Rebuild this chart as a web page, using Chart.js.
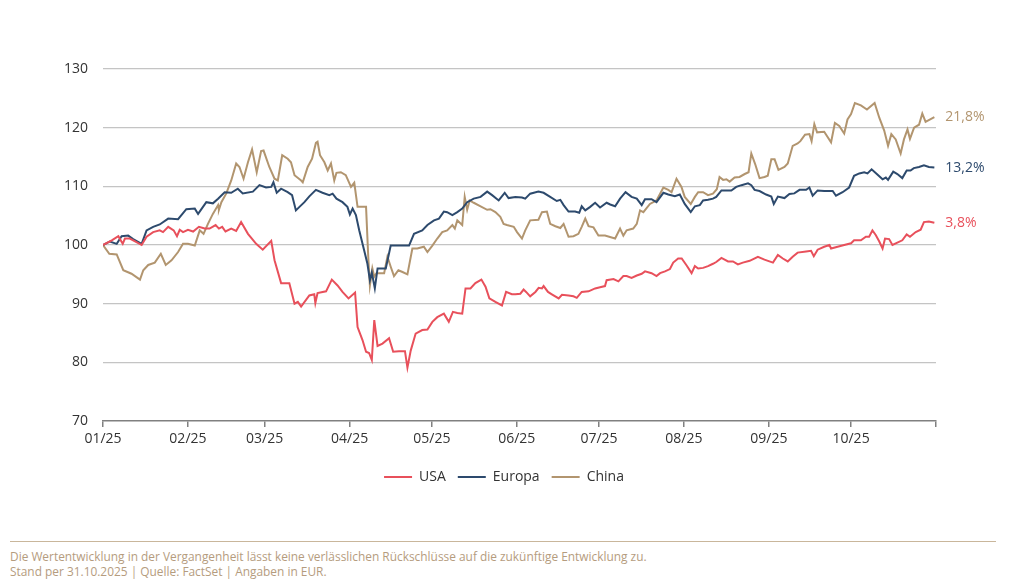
<!DOCTYPE html>
<html lang="de">
<head>
<meta charset="utf-8">
<script src="https://cdn.jsdelivr.net/npm/chart.js@4.4.1/dist/chart.umd.min.js"></script>
<style>
  html, body { margin: 0; padding: 0; background: #ffffff; }
  body { width: 1024px; height: 586px; position: relative; overflow: hidden; font-family: "Open Sans", sans-serif; }
  #wrap { position: absolute; left: 0; top: 0; width: 1024px; height: 505px; }
  #sep { position: absolute; left: 10px; top: 541px; width: 986px; height: 0; border-top: 1.5px solid #c9b69b; }
  #foot { position: absolute; left: 10px; top: 549px; font-size: 11.9px; line-height: 15px; color: #b59c7e; }
</style>
</head>
<body>
<div id="wrap"><canvas id="c"></canvas></div>
<div id="sep"></div>
<div id="foot">Die Wertentwicklung in der Vergangenheit lässt keine verlässlichen Rückschlüsse auf die zukünftige Entwicklung zu.<br>Stand per 31.10.2025 | Quelle: FactSet | Angaben in EUR.</div>
<script>
// x values: days since 1 Jan 2025
const seriesNames = ['USA', 'Europa', 'China'];
const endLabels = ['3,8%', '13,2%', '21,8%'];
const monthTickDays = [0, 31, 59, 90, 120, 151, 181, 212, 243, 273, 304];
const monthLabels = ['01/25', '02/25', '03/25', '04/25', '05/25', '06/25', '07/25', '08/25', '09/25', '10/25', ''];
const yTicks = [70, 80, 90, 100, 110, 120, 130];

const usaDays = [0,3.2,5.6,7.2,8.0,9.8,12.2,14.1,15.9,18.3,
  20.7,21.9,23.8,25.8,27.0,28.0,29.2,31.0,32.9,35.0,
  37.1,38.9,41.1,42.3,43.5,44.7,46.8,48.6,50.4,52.9,
  55.9,58.3,61.4,62.6,65.0,68.0,69.9,71.1,72.3,75.3,
  77.1,77.5,78.3,81.4,83.5,85.6,87.4,89.6,92.0,92.9,
  94.7,96.0,97.1,98.1,99.0,100.2,102.0,104.4,105.9,108.0,
  110.2,111.1,112.3,114.1,116.5,118.4,120.2,122.0,124.4,126.2,
  127.7,129.3,131.1,132.3,134.1,135.9,138.1,139.6,141.0,143.2,
  145.6,147.1,149.2,150.5,152.3,153.5,154.4,155.9,157.8,159.0,
  160.2,160.8,162.4,163.8,166.3,167.5,169.9,171.7,172.9,174.7,
  177.2,179.6,181.4,183.2,183.8,186.3,188.1,189.9,191.1,192.9,
  194.8,196.6,197.8,200.2,202.0,203.3,205.1,206.9,208.1,209.9,
  211.2,213.0,214.8,216.0,217.2,219.0,220.8,222.6,223.8,225.7,
  228.1,229.9,231.7,233.5,236.0,239.0,241.4,244.5,246.3,248.1,
  249.9,251.7,253.5,256.6,258.4,259.4,260.8,263.2,265.1,265.7,
  268.1,270.5,273.0,274.1,276.6,278.4,279.6,280.8,282.0,283.3,
  284.5,285.4,286.9,288.1,289.9,291.7,293.3,294.5,296.6,298.4,
  299.6,301.4,303.4];
const usaValues = [100,100.8,101.5,100.2,101.1,101.1,100.5,100.0,101.4,102.2,
  102.5,102.2,103.1,102.5,101.5,102.6,102.2,102.6,102.3,103.1,
  102.8,102.8,103.4,102.8,103.1,102.3,102.8,102.4,103.9,101.9,
  100.2,99.2,100.7,97.4,93.5,93.5,90.0,90.3,89.5,91.4,
  91.6,90.1,91.8,92.1,94.1,93.1,92.0,90.9,91.9,86.0,
  83.8,81.8,81.6,80.4,87.2,82.8,83.2,84.1,81.8,81.9,
  81.9,79.1,82.0,84.9,85.5,85.6,86.9,87.7,88.3,86.9,
  88.6,88.4,88.3,92.6,92.6,93.5,94.1,92.9,90.9,90.3,
  89.7,92.0,91.6,91.6,91.7,92.4,92.0,91.25,92.0,92.7,
  92.6,93.0,92.0,91.6,90.9,91.5,91.4,91.25,91.0,92.0,
  92.1,92.6,92.8,93.0,94.0,94.2,93.8,94.7,94.7,94.4,
  94.8,95.1,95.5,95.2,94.7,95.2,95.5,95.9,97.0,97.7,
  97.7,96.5,95.2,96.4,96.0,96.1,96.4,96.8,97.1,97.8,
  97.2,97.2,96.7,97.0,97.3,98.0,97.5,97.0,98.3,97.7,
  97.2,98.0,98.7,98.9,99.0,98.1,99.2,99.7,100.0,99.4,
  99.7,100.0,100.3,100.8,100.8,101.4,101.4,102.5,101.7,100.6,
  99.4,101.1,101.0,100.0,100.4,100.8,101.8,101.4,102.2,102.6,
  103.9,104.0,103.8];

const europaDays = [0,2.5,5.0,6.8,9.2,11.0,14.1,15.9,18.3,20.7,
  23.8,27.4,30.4,33.5,34.7,37.7,40.1,42.0,44.4,46.8,
  49.2,51.0,54.7,57.1,59.5,61.4,62.2,63.4,65.0,67.4,
  69.0,70.4,71.7,73.5,75.3,77.7,80.1,82.6,83.8,85.2,
  87.4,89.2,90.1,91.1,92.3,93.5,95.3,96.5,97.4,98.1,
  99.2,100.2,103.2,105.0,106.8,111.7,113.5,116.5,118.4,120.8,
  122.6,124.4,125.6,127.5,129.3,131.1,132.9,135.3,137.8,140.2,
  142.0,144.4,146.6,148.0,150.5,152.9,154.1,155.9,158.9,160.8,
  163.2,165.6,166.9,168.1,169.9,172.3,173.8,174.7,176.0,177.8,
  179.6,181.4,183.8,185.1,186.9,188.7,190.7,192.9,194.8,196.6,
  197.8,200.2,202.0,204.5,206.3,208.7,210.5,212.3,214.5,216.0,
  217.8,219.0,220.8,222.6,223.8,225.7,229.3,231.1,233.0,235.4,
  236.6,237.8,239.6,242.0,243.9,244.8,246.3,248.7,250.5,252.3,
  254.2,256.6,257.8,259.0,260.8,263.2,266.3,267.5,269.9,272.3,
  274.1,276.0,277.8,279.0,280.5,282.4,284.5,285.7,286.5,288.4,
  289.9,291.7,293.3,294.7,295.9,297.8,299.6,301.4,303.4];
const europaValues = [100,100.6,100.2,101.5,101.6,101.0,100.2,102.5,103.1,103.5,
  104.5,104.4,106.1,106.2,105.3,107.3,107.1,107.9,109.0,108.9,
  109.6,108.8,109.1,110.2,109.8,109.9,110.7,108.9,109.6,109.0,
  108.5,105.9,106.5,107.3,108.3,109.4,108.9,108.5,108.75,107.9,
  107.3,106.5,105.2,106.2,105.1,102.5,99.1,96.8,94.0,95.3,
  92.6,96.0,96.0,99.9,99.9,99.9,101.9,102.5,103.4,104.2,
  104.5,105.7,105.6,105.1,105.6,106.2,107.3,107.9,108.2,109.1,
  108.5,107.6,108.9,108.0,108.2,108.1,107.9,108.75,109.1,108.9,
  108.2,107.5,107.7,106.8,105.7,105.7,105.5,106.6,105.9,106.5,
  107.2,106.4,107.2,106.9,106.6,107.9,109.0,108.2,107.9,106.8,
  107.8,107.8,107.3,108.9,108.6,108.3,108.6,107.0,105.6,106.6,
  106.8,107.6,107.7,107.9,108.2,109.3,109.3,109.9,110.2,110.5,
  110.2,109.4,109.2,108.6,108.25,107.0,108.25,108.0,108.7,108.8,
  109.4,109.4,109.8,108.4,109.3,109.2,109.2,108.4,109.0,109.8,
  111.8,112.2,112.4,112.2,112.9,112.1,111.2,111.5,111.1,112.5,
  112.1,111.4,112.7,112.7,113.1,113.3,113.6,113.3,113.2];

const chinaDays = [0,2.3,5.0,7.4,10.4,13.5,14.7,16.5,18.9,21.1,
  22.9,25.0,27.4,29.2,31.0,33.5,35.3,36.7,38.3,40.1,
  42.0,42.3,43.2,45.0,46.8,48.6,49.8,51.3,52.9,54.4,
  56.1,57.7,58.6,60.7,62.6,63.8,65.4,67.4,68.6,69.9,
  72.3,72.9,74.7,76.3,77.7,78.3,79.2,80.8,82.0,83.2,
  84.4,85.2,86.8,88.6,90.5,91.7,92.9,96.0,96.8,97.4,
  98.3,99.0,99.8,102.6,103.8,105.0,106.2,107.8,109.3,111.1,
  112.9,114.7,117.1,118.4,120.2,122.0,123.8,125.6,127.5,128.4,
  129.3,131.1,132.0,132.9,133.8,135.3,137.8,140.2,141.4,143.2,
  145.0,146.2,147.4,149.9,151.1,152.9,154.1,155.9,158.9,160.2,
  162.0,163.2,165.1,166.9,168.1,169.9,171.7,173.5,174.7,176.0,
  177.2,179.0,180.8,183.2,186.9,188.7,189.9,191.1,193.5,194.8,
  196.0,197.2,199.6,202.0,203.6,204.5,206.3,207.5,209.3,211.1,
  212.3,214.5,216.0,217.2,219.0,220.8,222.6,224.0,225.0,226.3,
  227.5,228.7,230.5,232.3,234.2,235.6,236.6,238.0,239.6,241.4,
  242.6,243.9,245.1,246.5,248.7,249.9,251.7,253.5,254.5,256.2,
  257.8,258.6,259.6,260.6,263.2,265.7,267.1,268.7,270.5,271.7,
  273.0,274.4,276.6,278.8,281.6,283.3,285.1,286.5,287.7,289.3,
  291.1,292.3,293.6,294.5,296.0,297.8,299.0,300.2,303.4];
const chinaValues = [100,98.5,98.4,95.7,95.1,94.1,95.7,96.6,97.0,98.5,
  96.6,97.4,98.8,100.2,100.2,99.9,102.5,101.9,103.6,105.3,
  106.8,106.0,107.3,108.8,111.0,113.9,113.3,111.3,114.1,116.3,
  112.4,116.0,116.1,113.3,111.3,111.0,115.3,114.7,114.1,111.9,
  111.0,110.7,113.3,114.7,117.4,117.6,115.3,114.1,112.7,113.9,
  111.0,112.3,112.4,111.9,109.9,110.6,106.5,106.5,98.0,93.1,
  96.0,94.6,95.2,95.2,98.0,96.3,94.7,95.7,95.4,95.0,
  99.4,99.4,99.7,98.8,99.9,101.1,102.2,102.5,103.4,102.8,
  104.2,103.4,108.2,106.0,107.6,107.2,106.6,106.0,106.1,105.6,
  104.8,103.6,103.4,103.1,102.2,101.1,102.5,104.2,104.3,105.6,
  105.7,103.6,103.2,102.9,103.6,101.4,101.5,101.9,103.1,104.5,
  103.2,103.0,101.6,101.6,101.1,102.8,101.6,102.5,102.8,103.6,
  105.9,105.6,107.0,107.6,109.0,109.8,109.4,109.0,111.3,109.9,
  108.2,107.0,108.2,109.0,109.0,108.5,108.75,109.5,111.6,111.1,
  111.2,110.8,111.5,111.6,112.1,112.4,115.6,113.8,111.4,111.6,
  111.8,114.6,114.6,112.8,113.3,113.9,116.9,117.3,117.7,118.8,
  118.9,117.7,120.6,119.2,119.3,117.5,120.8,120.3,119.0,121.4,
  122.3,124.2,123.8,123.1,124.2,121.7,119.5,116.9,118.9,118.0,
  115.6,118.0,119.7,118.1,120.0,120.5,122.4,121.0,121.8];

const colors = ['#e8505b', '#2d4a6d', '#b2956f'];
const allDays = [usaDays, europaDays, chinaDays];
const allValues = [usaValues, europaValues, chinaValues];

function toPoints(days, values) {
  return days.map((d, i) => ({ x: d, y: values[i] }));
}

const endLabelPlugin = {
  id: 'endLabels',
  afterDatasetsDraw(chart) {
    const ctx = chart.ctx;
    ctx.save();
    ctx.font = '14px "Open Sans"';
    ctx.textBaseline = 'middle';
    ctx.textAlign = 'left';
    chart.data.datasets.forEach((ds, i) => {
      const meta = chart.getDatasetMeta(i);
      const pt = meta.data[meta.data.length - 1];
      ctx.fillStyle = colors[i];
      ctx.fillText(endLabels[i], pt.x + 11, pt.y);
    });
    ctx.restore();
  }
};

// shifts the centred legend a little to the left, as in the reference
const legendShiftPlugin = {
  id: 'legendShift',
  afterLayout(chart) {
    if (chart.legend) { chart.legend.left -= 16; }
  }
};

new Chart(document.getElementById('c'), {
  type: 'line',
  data: {
    datasets: seriesNames.map((name, i) => ({
      label: name,
      data: toPoints(allDays[i], allValues[i]),
      borderColor: colors[i],
      backgroundColor: colors[i],
      borderWidth: 2,
      pointRadius: 0,
      tension: 0,
      fill: false
    }))
  },
  options: {
    responsive: true,
    maintainAspectRatio: false,
    animation: false,
    layout: { padding: { top: 69, right: 0, bottom: 11, left: 0 } },
    plugins: {
      tooltip: { enabled: false },
      legend: {
        position: 'bottom',
        labels: {
          usePointStyle: true,
          pointStyle: 'line',
          pointStyleWidth: 28,
          boxHeight: 2,
          padding: 12,
          color: '#333333',
          font: { family: '"Open Sans"', size: 14 }
        }
      }
    },
    scales: {
      x: {
        type: 'linear',
        min: 0,
        max: 304,
        afterBuildTicks: (s) => { s.ticks = monthTickDays.map(v => ({ value: v })); },
        afterFit: (s) => { s.height = 37; },
        ticks: {
          autoSkip: false,
          maxRotation: 0,
          padding: 4,
          color: '#333333',
          font: { family: '"Open Sans"', size: 14 },
          callback: (v, i) => monthLabels[i]
        },
        grid: { drawOnChartArea: false, drawTicks: true, tickLength: 6, color: '#808080', lineWidth: 1.5 },
        border: { display: true, color: '#808080', width: 1.5 }
      },
      y: {
        min: 70,
        max: 130,
        afterBuildTicks: (s) => { s.ticks = yTicks.map(v => ({ value: v })); },
        afterFit: (s) => { s.width = 103; },
        ticks: {
          padding: 15,
          color: '#333333',
          font: { family: '"Open Sans"', size: 14 }
        },
        grid: {
          drawTicks: false,
          color: (c) => (c.tick && c.tick.value === 70) ? 'rgba(0,0,0,0)' : '#c4c4c4',
          lineWidth: 1.2
        },
        border: { display: false }
      },
      rightSpace: {
        type: 'linear',
        position: 'right',
        display: true,
        afterFit: (s) => { s.width = 88; },
        ticks: { display: false },
        grid: { display: false, drawTicks: false },
        border: { display: false }
      }
    }
  },
  plugins: [endLabelPlugin, legendShiftPlugin]
});
</script>
</body>
</html>
